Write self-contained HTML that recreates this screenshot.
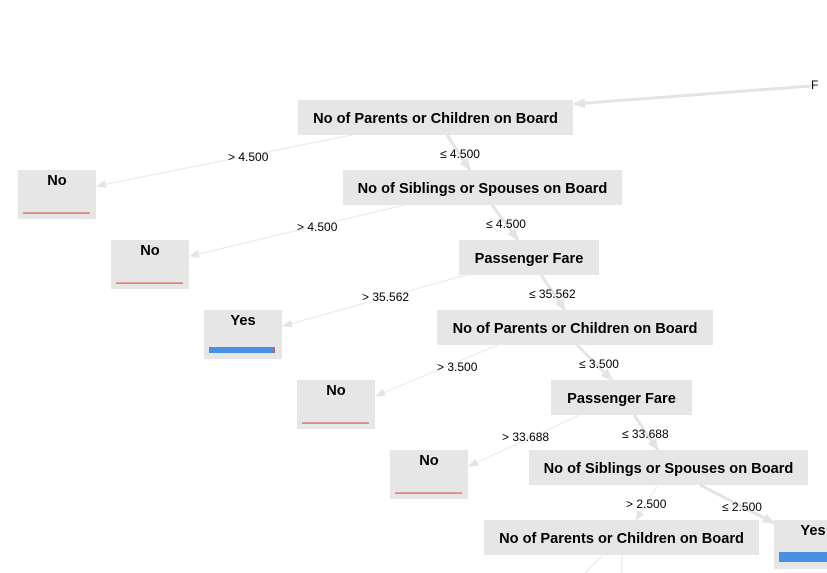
<!DOCTYPE html>
<html><head><meta charset="utf-8"><style>
html,body{margin:0;padding:0;background:#fff;width:827px;height:573px;overflow:hidden}
svg{display:block}
.n{fill:#e6e6e6}
.t{font-family:"Liberation Sans",sans-serif;font-weight:bold;font-size:14.6px;fill:#000}
.l{font-family:"Liberation Sans",sans-serif;font-size:12px;fill:#000}
.e1{stroke:#ebebeb;stroke-width:1.2;fill:none}
.e2{stroke:#e4e4e4;stroke-width:3;fill:none}
</style></head><body>
<svg width="827" height="573" viewBox="0 0 827 573" xmlns="http://www.w3.org/2000/svg">
<defs>
<marker id="a" markerWidth="10" markerHeight="8" refX="9" refY="4" orient="auto" markerUnits="userSpaceOnUse"><path d="M0,0 L10,4 L0,8 z" fill="#e4e4e4"/></marker>
<marker id="b" markerWidth="12" markerHeight="10" refX="11" refY="5" orient="auto" markerUnits="userSpaceOnUse"><path d="M0,0 L12,5 L0,10 z" fill="#e4e4e4"/></marker>
</defs>
<line class="e2" x1="811" y1="86" x2="574" y2="104" marker-end="url(#b)"/>
<line class="e1" x1="352" y1="135" x2="97" y2="186" marker-end="url(#a)"/>
<line class="e2" x1="447" y1="135" x2="470" y2="170" marker-end="url(#b)"/>
<line class="e1" x1="404" y1="205" x2="190" y2="256" marker-end="url(#a)"/>
<line class="e2" x1="492" y1="205" x2="518" y2="240" marker-end="url(#b)"/>
<line class="e1" x1="466" y1="275" x2="283" y2="326" marker-end="url(#a)"/>
<line class="e2" x1="541" y1="275" x2="565" y2="310" marker-end="url(#b)"/>
<line class="e1" x1="498" y1="345" x2="376" y2="396" marker-end="url(#a)"/>
<line class="e2" x1="577" y1="345" x2="612" y2="380" marker-end="url(#b)"/>
<line class="e1" x1="580" y1="415" x2="469" y2="466" marker-end="url(#a)"/>
<line class="e2" x1="634" y1="415" x2="658" y2="450" marker-end="url(#b)"/>
<line class="e1" x1="658" y1="485" x2="636" y2="520" marker-end="url(#a)"/>
<line class="e2" x1="700" y1="485" x2="774" y2="523" marker-end="url(#b)"/>
<line class="e1" x1="603" y1="555" x2="585" y2="573"/>
<line class="e1" x1="622" y1="555" x2="622" y2="573"/>
<text class="l" x="811" y="89" font-size="13">F</text>
<text class="l" x="228" y="161">&gt; 4.500</text>
<text class="l" x="440" y="158">≤ 4.500</text>
<text class="l" x="297" y="231">&gt; 4.500</text>
<text class="l" x="486" y="228">≤ 4.500</text>
<text class="l" x="362" y="301">&gt; 35.562</text>
<text class="l" x="529" y="298">≤ 35.562</text>
<text class="l" x="437" y="371">&gt; 3.500</text>
<text class="l" x="579" y="368">≤ 3.500</text>
<text class="l" x="502" y="441">&gt; 33.688</text>
<text class="l" x="622" y="438">≤ 33.688</text>
<text class="l" x="626" y="508">&gt; 2.500</text>
<text class="l" x="722" y="511">≤ 2.500</text>
<rect class="n" x="298" y="100" width="275" height="35"/><text class="t" x="435.5" y="123" text-anchor="middle">No of Parents or Children on Board</text>
<rect class="n" x="343" y="170" width="279" height="35"/><text class="t" x="482.5" y="193" text-anchor="middle">No of Siblings or Spouses on Board</text>
<rect class="n" x="459" y="240" width="140" height="35"/><text class="t" x="529" y="263" text-anchor="middle">Passenger Fare</text>
<rect class="n" x="437" y="310" width="276" height="35"/><text class="t" x="575" y="333" text-anchor="middle">No of Parents or Children on Board</text>
<rect class="n" x="551" y="380" width="141" height="35"/><text class="t" x="621.5" y="403" text-anchor="middle">Passenger Fare</text>
<rect class="n" x="529" y="450" width="279" height="35"/><text class="t" x="668.5" y="473" text-anchor="middle">No of Siblings or Spouses on Board</text>
<rect class="n" x="484" y="520" width="275" height="35"/><text class="t" x="621.5" y="543" text-anchor="middle">No of Parents or Children on Board</text>
<rect class="n" x="18" y="170" width="78" height="49"/><text class="t" x="57" y="185" text-anchor="middle">No</text><rect x="23" y="212.5" width="67" height="1.2" fill="#e05a4a"/>
<rect class="n" x="111" y="240" width="78" height="49"/><text class="t" x="150" y="255" text-anchor="middle">No</text><rect x="116" y="282.5" width="67" height="1.2" fill="#e05a4a"/>
<rect class="n" x="204" y="310" width="78" height="49"/><text class="t" x="243" y="325" text-anchor="middle">Yes</text><rect x="209" y="347" width="64" height="6" fill="#4a90e2"/><rect x="273" y="347" width="2" height="6" fill="#e05a4a"/>
<rect class="n" x="297" y="380" width="78" height="49"/><text class="t" x="336" y="395" text-anchor="middle">No</text><rect x="302" y="422.5" width="67" height="1.2" fill="#e05a4a"/>
<rect class="n" x="390" y="450" width="78" height="49"/><text class="t" x="429" y="465" text-anchor="middle">No</text><rect x="395" y="492.5" width="67" height="1.2" fill="#e05a4a"/>
<rect class="n" x="774" y="520" width="78" height="49"/><text class="t" x="813" y="535" text-anchor="middle">Yes</text><rect x="779" y="552" width="48" height="10" fill="#4a90e2"/>
</svg>
</body></html>
